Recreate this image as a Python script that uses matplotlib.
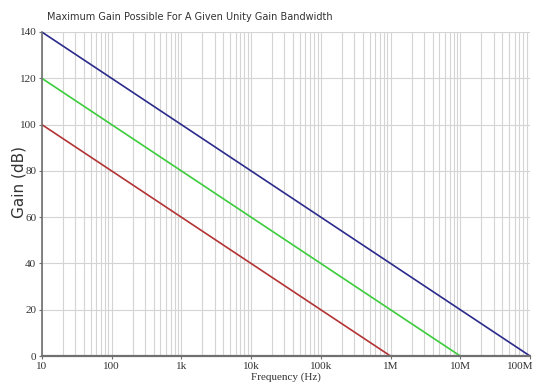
#!/usr/bin/env python3

import matplotlib
matplotlib.use('Agg')
import matplotlib.pyplot as plt
import matplotlib.ticker as mticker

# endpoints of each gain line (Hz, dB)
freq_blue = [10, 1e8]
gain_blue = [140, 0]
freq_green = [10, 1e7]
gain_green = [120, 0]
freq_red = [10, 1e6]
gain_red = [100, 0]

xticks = [10, 100, 1e3, 1e4, 1e5, 1e6, 1e7, 1e8]
xlabels = ['10', '100', '1k', '10k', '100k', '1M', '10M', '100M']
yticks = [0, 20, 40, 60, 80, 100, 120, 140]

fig = plt.figure(figsize=(5.36, 3.9), dpi=100)
ax = fig.add_axes([0.078, 0.087, 0.911, 0.831])

ax.plot(freq_blue, gain_blue, color='#2b2b8c', lw=1.2)
ax.plot(freq_green, gain_green, color='#3ccc3c', lw=1.2)
ax.plot(freq_red, gain_red, color='#b23434', lw=1.2)

ax.set_xscale('log')
ax.set_xlim(10, 1e8)
ax.set_ylim(0, 140)
ax.set_xticks(xticks)
# last label is drawn separately so it stays inside the figure
ax.set_xticklabels(xlabels[:-1] + [''])
ax.xaxis.set_minor_locator(mticker.LogLocator(base=10, subs=range(2, 10)))
ax.xaxis.set_minor_formatter(mticker.NullFormatter())
ax.set_yticks(yticks)

ax.grid(True, which='both', axis='x', color='#d4d4d4', lw=0.8)
ax.grid(True, which='major', axis='y', color='#d4d4d4', lw=0.8)
ax.set_axisbelow(True)

for s in ['top', 'right']:
    ax.spines[s].set_visible(False)
ax.spines['left'].set_color('#707070')
ax.spines['bottom'].set_color('#707070')
ax.spines['bottom'].set_linewidth(1.6)
ax.spines['left'].set_linewidth(1.2)

ax.tick_params(axis='both', which='major', length=2, color='#707070', pad=2)
ax.tick_params(axis='x', which='minor', length=0)
for lab in ax.get_xticklabels() + ax.get_yticklabels():
    lab.set_family('Liberation Serif')
    lab.set_fontsize(8)
    lab.set_color('#333333')

ax.annotate(xlabels[-1], xy=(xticks[-1], 0), xycoords=('data', 'axes fraction'),
            xytext=(-7, -4), textcoords='offset points', ha='center', va='top',
            family='Liberation Serif', fontsize=8, color='#333333',
            annotation_clip=False)

ax.set_xlabel('Frequency (Hz)', family='Liberation Serif', fontsize=8,
              color='#333333', labelpad=1)
fig.text(19 / 536, 1 - 182 / 390, 'Gain (dB)', family='DejaVu Sans',
         fontsize=11, color='#333333', rotation=90, ha='center', va='center')

fig.text(0.088, 0.957, 'Maximum Gain Possible For A Given Unity Gain Bandwidth',
         family='DejaVu Sans', fontsize=7, color='#333333', va='center')

plt.savefig('out.png', dpi=100, facecolor='white')
